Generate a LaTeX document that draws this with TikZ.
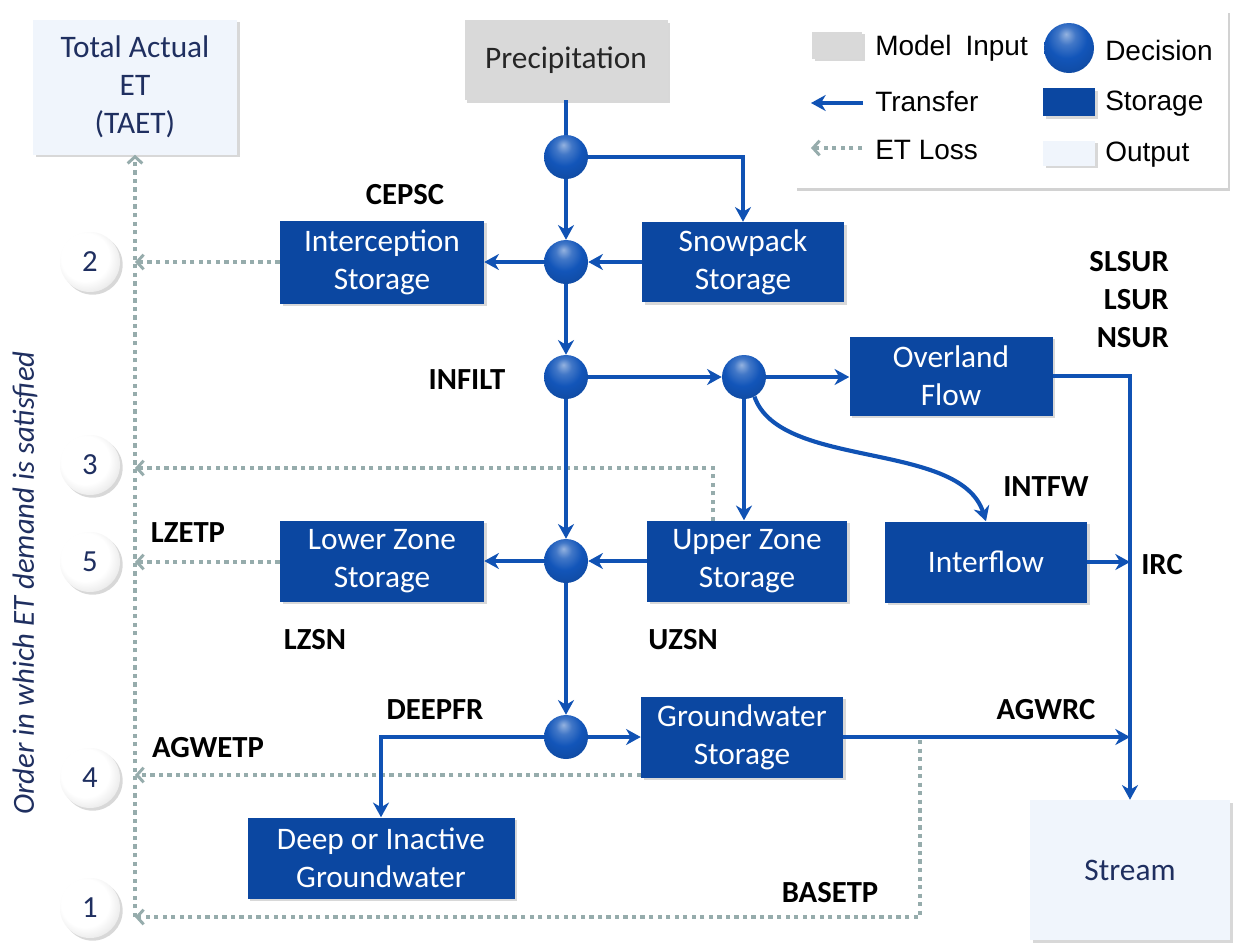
\documentclass[tikz,border=0pt]{standalone}
\usepackage{fontspec}
\setmainfont{Carlito}
\newfontfamily\arialfont{Liberation Sans}
\usetikzlibrary{arrows.meta,shadows,calc}
\definecolor{stor}{RGB}{11,71,161}
\definecolor{flow}{RGB}{16,82,180}
\definecolor{etc}{RGB}{150,172,172}
\definecolor{outc}{RGB}{240,245,252}
\definecolor{inc}{RGB}{217,217,217}
\definecolor{navy}{RGB}{31,47,96}
\definecolor{ballc}{RGB}{18,85,185}
\pgfdeclareradialshading{wball}{\pgfpoint{-6bp}{6bp}}{color(0bp)=(white); color(20bp)=(white); color(34bp)=(black!12); color(44bp)=(black!35); color(60bp)=(black!50)}
\pgfdeclareradialshading{bball}{\pgfpoint{-3bp}{14bp}}{color(0bp)=(ballc!45!white); color(9bp)=(ballc!80!white); color(20bp)=(ballc); color(36bp)=(ballc!85!black); color(50bp)=(ballc!45!black); color(66bp)=(black)}
\begin{document}
\begin{tikzpicture}[x=0.75pt,y=-0.75pt,
  box/.style 2 args={minimum width=#1*0.75pt, minimum height=#2*0.75pt, inner sep=0pt, align=center, font=\fontsize{23.5}{28.5}\selectfont},
  shad/.style={drop shadow={opacity=0.3,shadow xshift=2pt,shadow yshift=-2pt}},
  storage/.style={fill=stor, text=white, shad},
  outbox/.style={fill=outc, text=navy, shad},
  inbox/.style={fill=inc, text=black!85, shad},
  dec/.style={circle, minimum size=33pt, inner sep=0pt, shading=bball},
  num/.style={circle, minimum size=45pt, inner sep=0pt, shading=wball, text=navy, font=\fontsize{23}{26}\selectfont, shad},
  tr/.style={draw=flow, line width=3.1pt, -{Stealth[length=11pt,width=12pt,inset=3.5pt]}},
  trn/.style={draw=flow, line width=3.1pt},
  etl/.style={draw=etc, line width=3.2pt, dash pattern=on 3.2pt off 3.2pt},
  eta/.style={etl, -{Straight Barb[length=5pt,width=11pt,line width=2.2pt]}},
  lab/.style={font=\bfseries\fontsize{23}{28.5}\selectfont, text=black, inner sep=0pt},
  leg/.style={font=\arialfont\fontsize{21}{24}\selectfont, anchor=west, inner sep=0pt},
]
\useasboundingbox[fill=white] (0,0) rectangle (1233,943);

% legend
\node[draw=none, fill=white, minimum width=433*0.75pt, minimum height=178*0.75pt, inner sep=0pt, drop shadow={opacity=0.35,shadow xshift=2pt,shadow yshift=-2pt}] (legbox) at (1011,99) {};
\node[inbox, box={50}{27}] (lgin) at (837,45) {};
\node[leg] (lgint) at (875,48) {Model\hspace{0.5em}Input};
\node[dec, minimum size=37.5pt] (lgdec) at (1069,48) {};
\node[leg] (lgdect) at (1105,50) {Decision};
\coordinate (lgtra) at (863,103);
\coordinate (lgtrb) at (811,103);
\draw[tr] (lgtra) -- (lgtrb);
\node[leg] (lgtrt) at (875,102) {Transfer};
\node[storage, box={52}{28}] (lgst) at (1069,102) {};
\node[leg] (lgstt) at (1105,104) {Storage};
\coordinate (lgeta) at (862,148);
\coordinate (lgetb) at (811,148);
\draw[eta] (lgeta) -- (lgetb);
\node[leg] (lgett) at (875,150) {ET Loss};
\node[outbox, box={52}{25}] (lgout) at (1069,153) {};
\node[leg] (lgoutt) at (1105,155) {Output};

% boxes
\node[outbox, box={204}{135}] (taet) at (135,87) {Total Actual\\ET\\(TAET)};
\node[inbox, box={203}{80}] (precip) at (566,60) {Precipitation};
\node[storage, box={204}{83}] (intc) at (382,262) {Interception\\Storage};
\node[storage, box={202}{80}] (snow) at (743,262) {Snowpack\\Storage};
\node[storage, box={203}{79}] (over) at (951,376) {Overland\\Flow};
\node[storage, box={204}{81}] (lower) at (382,561) {Lower Zone\\Storage};
\node[storage, box={200}{81}] (upper) at (747,561) {Upper Zone\\Storage};
\node[storage, box={202}{81}] (inter) at (986,562) {Interflow};
\node[storage, box={202}{81}] (gw) at (742,737) {Groundwater\\Storage};
\node[storage, box={267}{81}] (deep) at (381,858) {Deep or Inactive\\Groundwater};
\node[outbox, box={200}{140}] (stream) at (1130,870) {Stream};

% decisions
\node[dec] (d1) at (566,157) {};
\node[dec] (d2) at (566,262) {};
\node[dec] (d3) at (566,377) {};
\node[dec] (d4) at (744,377) {};
\node[dec] (d5) at (566,561) {};
\node[dec] (d6) at (566,737) {};

% numbered circles
\node[num] (n2) at (90,262) {2};
\node[num] (n3) at (90,465) {3};
\node[num] (n5) at (90,562) {5};
\node[num] (n4) at (90,778) {4};
\node[num] (n1) at (90,908) {1};

% ET loss lines
\coordinate (e2) at (135,262);
\coordinate (e3) at (135,468);
\coordinate (e5) at (135,562);
\coordinate (e4) at (135,775);
\coordinate (e1) at (135,917);
\coordinate (uzt) at (713,521);
\coordinate (bs) at (920,740);
\coordinate (gwl) at (641,775);
\draw[eta] (e1) -- (taet.south);
\draw[eta] (intc.west) -- (e2);
\draw[eta] (uzt) |- (e3);
\draw[eta] (lower.west |- e5) -- (e5);
\draw[eta] (gwl) -- (e4);
\draw[eta] (bs) |- (e1);

% transfers
\draw[trn] (precip.south) -- (d1.north);
\draw[tr] (d1.south) -- (d2.north);
\draw[tr] (d1.east) -| (snow.north);
\draw[tr] (snow.west) -- (d2.east);
\draw[tr] (d2.west) -- (intc.east);
\draw[tr] (d2.south) -- (d3.north);
\draw[tr] (d3.east) -- (d4.west);
\draw[tr] (d4.east) -- (d4.east -| over.west);
\draw[tr] (d4.south) -- (d4.south |- upper.north);
\draw[tr] (d4.-62) .. controls (780,470) and (960,440) .. (inter.north);
\draw[tr] (d3.south) -- (d5.north);
\draw[tr] (upper.west) -- (d5.east);
\draw[tr] (d5.west) -- (lower.east);
\draw[tr] (d5.south) -- (d6.north);
\draw[tr] (d6.east) -- (gw.west);
\draw[tr] (d6.west) -| (deep.north);
\draw[tr] (over.east) -| (stream.north);
\draw[tr] (inter.east) -- (inter.east -| stream.north);
\draw[tr] (gw.east) -- (gw.east -| stream.north);

% labels
\node[lab] (lcepsc) at (405,195) {CEPSC};
\node[lab, align=right, anchor=east] (lsur) at (1169,300) {SLSUR\\LSUR\\NSUR};
\node[lab] (linfilt) at (467,380) {INFILT};
\node[lab] (lintfw) at (1046,487) {INTFW};
\node[lab] (llzetp) at (188,533) {LZETP};
\node[lab] (lirc) at (1162,565) {IRC};
\node[lab] (llzsn) at (315,640) {LZSN};
\node[lab] (luzsn) at (683,640) {UZSN};
\node[lab] (ldeep) at (435,710) {DEEPFR};
\node[lab] (lagwrc) at (1046,710) {AGWRC};
\node[lab] (lagwetp) at (208,748) {AGWETP};
\node[lab] (lbasetp) at (830,893) {BASETP};
\node[rotate=90, text=navy, font=\itshape\fontsize{23}{26}\selectfont, inner sep=0pt] (order) at (25,583) {Order in which ET demand is satisfied};
\end{tikzpicture}
\end{document}
